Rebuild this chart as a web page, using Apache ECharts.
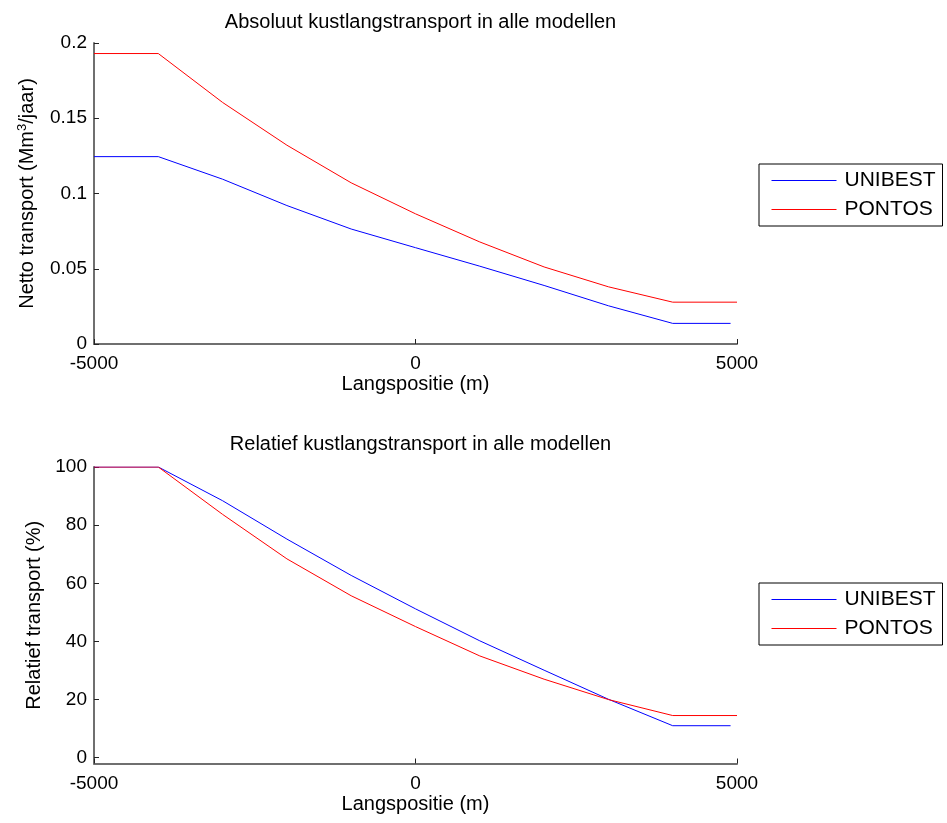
<!DOCTYPE html>
<html>
<head>
<meta charset="utf-8">
<script src="https://cdn.jsdelivr.net/npm/echarts@6/dist/echarts.min.js"></script>
<style>html,body{margin:0;padding:0;background:#fff}#c{width:947px;height:823px}</style>
</head>
<body>
<div id="c"></div>
<script>
const xPontos = [-5000,-4000,-3000,-2000,-1000,0,1000,2000,3000,4000,5000];
const xUnibest = [-5000,-4000,-3000,-2000,-1000,0,1000,2000,3000,4000,4900];
const absUnibest = [0.1245,0.1245,0.1095,0.092,0.0764,0.064,0.0517,0.0389,0.0254,0.0137,0.0137];
const absPontos = [0.193,0.193,0.1605,0.1321,0.1071,0.0865,0.0678,0.0512,0.038,0.0278,0.0278];
const relUnibest = [100,100,88.4,75.2,62.7,51.2,40.2,30.1,20.1,11.0,11.0];
const relPontos = [100,100,83.7,68.4,55.7,45.1,35.0,27.0,20.0,14.5,14.5];
const relTicks = [0,20,40,60,80,100];
const seriesNames = ['UNIBEST','PONTOS'];
const seriesColors = ['#0000ff','#ff0000'];

const FONT = "'Liberation Sans', Arial, sans-serif";
const zip = (xs, ys) => xs.map((x,i)=>[x, ys[i]]);
const axisLine = {show:true, lineStyle:{color:'#6f6f6f', width:2}};
const axisTick = {show:true, inside:true, length:5, lineStyle:{color:'#222', width:1}};
const lbl = {color:'#000', fontSize:19, fontFamily:FONT};
const nameStyle = {color:'#000', fontSize:20, fontFamily:FONT};
// unique ids per panel so each legend binds to its own series
const topNames = seriesNames.map(n => n + '\u200b');
const botNames = seriesNames.map(n => n + '\u200c');

const chart = echarts.init(document.getElementById('c'), null, {renderer:'canvas'});
const legendBase = {
  orient:'vertical', left:759, itemWidth:65, itemHeight:14, itemGap:8,
  padding:[6,7,6,12], borderColor:'#000', borderWidth:1, backgroundColor:'#fff',
  itemStyle:{opacity:0},
  lineStyle:{width:1},
  formatter: n => n.replace(/[\u200b\u200c]/g,''),
  textStyle:{color:'#000', fontSize:21, lineHeight:20, fontFamily:FONT, padding:[0,0,0,3]}
};
chart.setOption({
  animation:false,
  title:[
    {text:'Absoluut kustlangstransport in alle modellen', left:415.5, top:7, textAlign:'center',
     textStyle:{fontWeight:'normal', fontSize:20, color:'#000', fontFamily:FONT}},
    {text:'Relatief kustlangstransport in alle modellen', left:415.5, top:429, textAlign:'center',
     textStyle:{fontWeight:'normal', fontSize:20, color:'#000', fontFamily:FONT}}
  ],
  legend:[
    Object.assign({}, legendBase, {top:164, data:topNames}),
    Object.assign({}, legendBase, {top:583, data:botNames})
  ],
  grid:[
    {left:94, width:643, top:43, height:301},
    {left:94, width:643, top:467, height:296.5}
  ],
  xAxis:[
    {type:'value', gridIndex:0, min:-5000, max:5000, interval:5000,
     name:'Langspositie (m)', nameLocation:'middle', nameGap:30, nameTextStyle:nameStyle,
     axisLine:Object.assign({onZero:false}, axisLine), axisTick,
     axisLabel:Object.assign({margin:10, formatter:v=>String(v)}, lbl), splitLine:{show:false}},
    {type:'value', gridIndex:1, min:-5000, max:5000, interval:5000,
     name:'Langspositie (m)', nameLocation:'middle', nameGap:31, nameTextStyle:nameStyle,
     axisLine:Object.assign({onZero:false}, axisLine), axisTick,
     axisLabel:Object.assign({margin:11, formatter:v=>String(v)}, lbl), splitLine:{show:false}}
  ],
  yAxis:[
    {type:'value', gridIndex:0, min:0, max:0.2, interval:0.05,
     name:'Netto transport (Mm{sup|3}/jaar)', nameLocation:'middle', nameGap:56,
     nameTextStyle:Object.assign({
       rich:{sup:{fontSize:13, fontFamily:FONT, color:'#000', padding:[0,0,9,0]}}}, nameStyle),
     axisLine:Object.assign({onZero:false}, axisLine), axisTick, axisLabel:Object.assign({margin:7}, lbl), splitLine:{show:false}},
    {type:'value', gridIndex:1, min:-2, max:100,
     name:'Relatief transport (%)', nameLocation:'middle', nameGap:47, nameTextStyle:nameStyle,
     axisLine:Object.assign({onZero:false}, axisLine),
     axisTick:Object.assign({customValues:relTicks}, axisTick),
     axisLabel:Object.assign({margin:7, customValues:relTicks}, lbl), splitLine:{show:false}}
  ],
  series:[
    {name:topNames[0], type:'line', xAxisIndex:0, yAxisIndex:0, data:zip(xUnibest, absUnibest), symbol:'none', lineStyle:{color:seriesColors[0], width:1}, itemStyle:{color:seriesColors[0]}},
    {name:topNames[1], type:'line', xAxisIndex:0, yAxisIndex:0, data:zip(xPontos, absPontos), symbol:'none', lineStyle:{color:seriesColors[1], width:1}, itemStyle:{color:seriesColors[1]}},
    {name:botNames[0], type:'line', xAxisIndex:1, yAxisIndex:1, data:zip(xUnibest, relUnibest), symbol:'none', lineStyle:{color:seriesColors[0], width:1}, itemStyle:{color:seriesColors[0]}},
    {name:botNames[1], type:'line', xAxisIndex:1, yAxisIndex:1, data:zip(xPontos, relPontos), symbol:'none', lineStyle:{color:seriesColors[1], width:1}, itemStyle:{color:seriesColors[1]}}
  ]
});
</script>
</body>
</html>
